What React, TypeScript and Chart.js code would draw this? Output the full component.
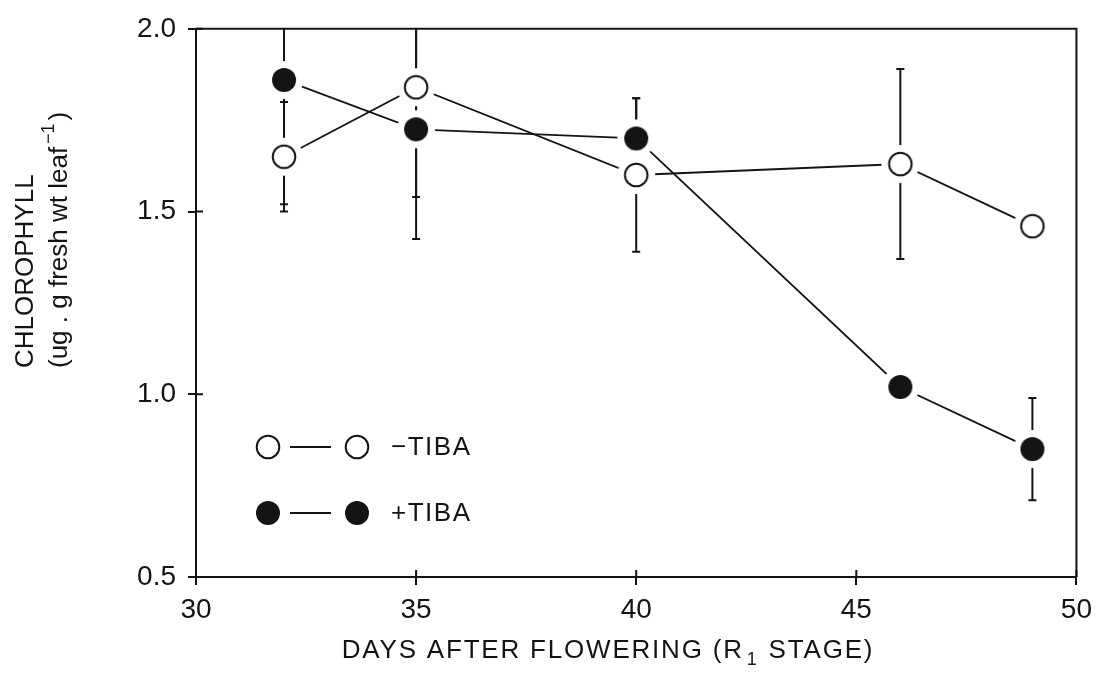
import React, { useEffect, useRef } from "react";
import { Chart, registerables } from "chart.js";

Chart.register(...registerables);

const days = [32, 35, 40, 46, 49];
const minusTIBA = [1.65, 1.84, 1.6, 1.63, 1.46];
const minusTIBAErr = [0.15, 0.3, 0.21, 0.26, 0];
const plusTIBA = [1.86, 1.725, 1.7, 1.02, 0.85];
const plusTIBAErr = [0.34, 0.3, 0.11, 0, 0.14];

const xTickValues = [30, 35, 40, 45, 50];
const yTickValues = [0.5, 1.0, 1.5, 2.0];

const FONT = '"Liberation Sans", Arial, sans-serif';
const INK = "#141414";

function makeMarker(filled: boolean): HTMLCanvasElement {
  const c = document.createElement("canvas");
  c.width = 42;
  c.height = 42;
  const g = c.getContext("2d")!;
  g.fillStyle = "#ffffff";
  g.beginPath();
  g.arc(21, 21, 19, 0, Math.PI * 2);
  g.fill();
  g.beginPath();
  if (filled) {
    g.arc(21, 21, 12, 0, Math.PI * 2);
    g.fillStyle = INK;
    g.fill();
  } else {
    g.arc(21, 21, 11.3, 0, Math.PI * 2);
    g.fillStyle = "#ffffff";
    g.fill();
    g.lineWidth = 2;
    g.strokeStyle = INK;
    g.stroke();
  }
  return c;
}

export default function App() {
  const ref = useRef<HTMLCanvasElement | null>(null);

  useEffect(() => {
    if (!ref.current) return;
    const openImg = makeMarker(false);
    const filledImg = makeMarker(true);
    const errs = [minusTIBAErr, plusTIBAErr];

    const errorBars = {
      id: "errorBars",
      beforeDatasetsDraw(chart: any) {
        const { ctx, chartArea, scales } = chart;
        ctx.save();
        ctx.beginPath();
        ctx.rect(chartArea.left, chartArea.top, chartArea.right - chartArea.left, chartArea.bottom - chartArea.top);
        ctx.clip();
        ctx.strokeStyle = INK;
        ctx.lineWidth = 2;
        chart.data.datasets.forEach((ds: any, di: number) => {
          ds.data.forEach((p: any, i: number) => {
            const e = errs[di][i];
            if (!e) return;
            const x = scales.x.getPixelForValue(p.x);
            const yt = scales.y.getPixelForValue(p.y + e);
            const yb = scales.y.getPixelForValue(p.y - e);
            ctx.beginPath();
            ctx.moveTo(x, yt);
            ctx.lineTo(x, yb);
            ctx.moveTo(x - 4, yt);
            ctx.lineTo(x + 4, yt);
            ctx.moveTo(x - 4, yb);
            ctx.lineTo(x + 4, yb);
            ctx.stroke();
          });
        });
        ctx.restore();
      },
    };

    const decorations = {
      id: "decorations",
      afterDraw(chart: any) {
        const { ctx, chartArea, scales } = chart;
        const { left, right, top, bottom } = chartArea;
        ctx.save();
        ctx.strokeStyle = INK;
        ctx.lineWidth = 2;
        ctx.beginPath();
        ctx.moveTo(left, top);
        ctx.lineTo(right, top);
        ctx.lineTo(right, bottom);
        ctx.stroke();
        ctx.beginPath();
        yTickValues.forEach((v) => {
          const y = scales.y.getPixelForValue(v);
          ctx.moveTo(left, y);
          ctx.lineTo(left + 7, y);
        });
        xTickValues.forEach((v) => {
          const x = scales.x.getPixelForValue(v);
          ctx.moveTo(x, bottom);
          ctx.lineTo(x, bottom - 7);
        });
        ctx.stroke();

        // legend
        const rows = [
          { y: 447, img: openImg, label: "\u2212TIBA" },
          { y: 513, img: filledImg, label: "+TIBA" },
        ];
        ctx.fillStyle = INK;
        rows.forEach((r) => {
          ctx.beginPath();
          ctx.moveTo(290, r.y);
          ctx.lineTo(331, r.y);
          ctx.stroke();
          ctx.drawImage(r.img, 268 - 21, r.y - 21);
          ctx.drawImage(r.img, 357 - 21, r.y - 21);
          (ctx as any).letterSpacing = "1.5px";
          ctx.font = `26px ${FONT}`;
          ctx.textAlign = "left";
          ctx.textBaseline = "middle";
          ctx.fillText(r.label, 391, r.y + 1);
        });

        // x title
        (ctx as any).letterSpacing = "1.8px";
        const big = `26px ${FONT}`;
        const small = `18px ${FONT}`;
        const p1 = "DAYS AFTER FLOWERING (R";
        const p2 = "1";
        const p3 = " STAGE)";
        ctx.font = big;
        const w1 = ctx.measureText(p1).width;
        const w3 = ctx.measureText(p3).width;
        ctx.font = small;
        const w2 = ctx.measureText(p2).width + 4;
        const total = w1 + w2 + w3;
        const x0 = 608 - total / 2;
        const base = 658;
        ctx.textBaseline = "alphabetic";
        ctx.textAlign = "left";
        ctx.font = big;
        ctx.fillText(p1, x0, base);
        ctx.font = small;
        ctx.fillText(p2, x0 + w1 + 3, base + 7);
        ctx.font = big;
        ctx.fillText(p3, x0 + w1 + w2, base);

        // y title (rotated)
        (ctx as any).letterSpacing = "0px";
        ctx.textBaseline = "middle";
        ctx.save();
        ctx.translate(26, 368);
        ctx.rotate(-Math.PI / 2);
        ctx.font = big;
        ctx.fillText("CHLOROPHYLL", 0, 0);
        ctx.restore();

        ctx.save();
        ctx.translate(60, 368);
        ctx.rotate(-Math.PI / 2);
        ctx.font = big;
        const l2 = "(ug . g fresh wt leaf";
        ctx.fillText(l2, 0, 0);
        const lw = ctx.measureText(l2).width;
        ctx.font = small;
        const sup = "\u22121";
        ctx.fillText(sup, lw + 3, -11);
        const sw = ctx.measureText(sup).width;
        ctx.font = big;
        ctx.fillText(")", lw + sw + 6, 0);
        ctx.restore();

        ctx.restore();
      },
    };

    const chart = new Chart(ref.current, {
      type: "line",
      data: {
        datasets: [
          {
            label: "\u2212TIBA",
            data: days.map((d, i) => ({ x: d, y: minusTIBA[i] })),
            borderColor: INK,
            borderWidth: 1.8,
            pointStyle: openImg as any,
            pointRadius: 20,
            tension: 0,
          },
          {
            label: "+TIBA",
            data: days.map((d, i) => ({ x: d, y: plusTIBA[i] })),
            borderColor: INK,
            borderWidth: 1.8,
            pointStyle: filledImg as any,
            pointRadius: 20,
            tension: 0,
          },
        ],
      },
      options: {
        responsive: false,
        animation: false,
        events: [],
        layout: { padding: { left: 0, top: 27, right: 22, bottom: 0 } },
        plugins: { legend: { display: false }, tooltip: { enabled: false }, title: { display: false } },
        scales: {
          x: {
            type: "linear",
            min: 30,
            max: 50,
            afterFit(scale: any) {
              scale.height = 105;
            },
            afterBuildTicks(scale: any) {
              scale.ticks = xTickValues.map((v) => ({ value: v }));
            },
            grid: { drawOnChartArea: false, drawTicks: true, tickLength: 8, color: INK, lineWidth: 2 },
            border: { display: true, color: INK, width: 2 },
            ticks: {
              font: { family: FONT, size: 28 },
              color: INK,
              padding: 8,
              maxRotation: 0,
              callback: (v: any) => String(v),
            },
          },
          y: {
            type: "linear",
            min: 0.5,
            max: 2.0,
            afterFit(scale: any) {
              scale.width = 196;
            },
            afterBuildTicks(scale: any) {
              scale.ticks = yTickValues.map((v) => ({ value: v }));
            },
            grid: { drawOnChartArea: false, drawTicks: true, tickLength: 8, color: INK, lineWidth: 2 },
            border: { display: true, color: INK, width: 2 },
            ticks: {
              font: { family: FONT, size: 28 },
              color: INK,
              padding: 12,
              callback: (v: any) => Number(v).toFixed(1),
            },
          },
        },
      },
      plugins: [errorBars, decorations],
    });
    return () => chart.destroy();
  }, []);

  return (
    <div style={{ position: "fixed", left: 0, top: 0, width: 1100, height: 682, background: "#fff" }}>
      <canvas ref={ref} width={1100} height={682} />
    </div>
  );
}
